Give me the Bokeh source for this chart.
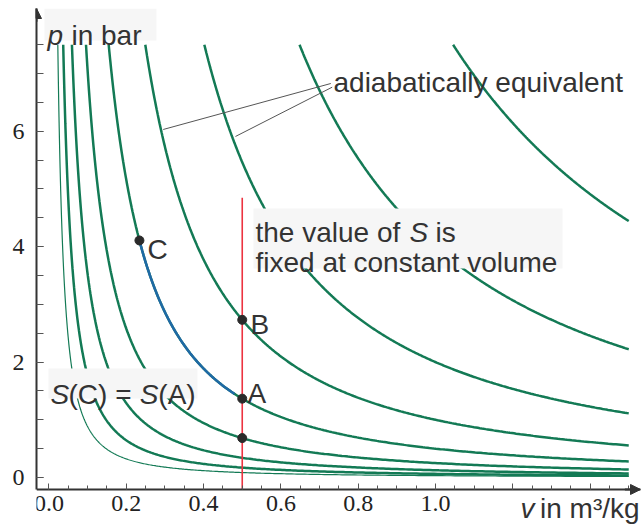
import numpy as np
from bokeh.plotting import figure
from bokeh.models import (Range1d, FixedTicker, CustomJSTickFormatter, Label,
                          BoxAnnotation, Arrow, NormalHead)
from bokeh.embed import file_html
from bokeh.resources import INLINE

# ---- data ----
kappa = 1.45                                   # adiabatic exponent of the curves p = K * v**(-kappa)
adiabat_K = [1/32, 1/16, 1/8, 1/4, 1/2, 1, 2, 4, 8]   # curve constants
p_clip = 7.5                                   # curves end at this pressure
v_end = 1.5                                    # curves end at this volume

state_names = ["A", "B", "", "C"]
state_v = [0.5, 0.5, 0.5, 0.234]
state_K = [0.5, 1, 0.25, 0.5]

blue_v = [0.234, 0.48]                         # blue part of the adiabat through C and A
blue_K = 0.5

iso_v = 0.5                                    # constant volume line
iso_p = [-0.21, 4.85]

x_ticks = [0.0, 0.2, 0.4, 0.6, 0.8, 1.0, 1.2, 1.4]
x_minor = [round(0.05 * i, 2) for i in range(31)]
y_ticks = [0, 2, 4, 6]
y_minor = [0.5 * i for i in range(16)]

GREEN = "#137a55"
BLUE = "#1f69a6"
RED = "#ec3340"
DARK = "#2a2a2a"
TXT = "#333333"
FONT = "Liberation Sans"
FS = "28px"

X0, X1 = -0.0323, 1.5304
YAX, Y1 = -0.208, 8.128          # x-axis position and top of frame
Y0 = -0.815                      # bottom of canvas

p = figure(width=642, height=524, x_range=Range1d(X0, X1),
           y_range=Range1d(Y0, Y1), output_backend="svg",
           toolbar_location=None, min_border_left=36, min_border_right=2,
           min_border_top=8, min_border_bottom=0)
p.outline_line_color = None
p.grid.visible = False
p.background_fill_color = "white"

# axes
xa = p.xaxis[0]
xa.fixed_location = YAX
xa.ticker = FixedTicker(ticks=x_ticks, minor_ticks=x_minor)
xa.formatter = CustomJSTickFormatter(code="return tick > 1.05 ? '' : tick.toFixed(1);")
ya = p.yaxis[0]
ya.bounds = (YAX, Y1)
ya.ticker = FixedTicker(ticks=y_ticks, minor_ticks=y_minor)
for ax in (xa, ya):
    ax.axis_line_width = 2
    ax.axis_line_color = "#333333"
    ax.major_tick_out = 0
    ax.minor_tick_out = 0
    ax.major_tick_line_color = "#555555"
    ax.minor_tick_line_color = "#555555"
    ax.major_label_text_font = "Liberation Serif"
    ax.major_label_text_font_size = "24px"
    ax.major_label_text_color = "#222222"
xa.major_tick_in = 6
xa.minor_tick_in = 4
xa.major_label_standoff = 7
ya.major_tick_in = 7
ya.minor_tick_in = 7
ya.major_label_standoff = 12

# adiabats
for i, K in enumerate(adiabat_K):
    v0 = (K / p_clip) ** (1 / kappa)
    v = np.geomspace(v0, v_end, 400)
    pr = K * v ** (-kappa)
    p.line(v, pr, line_color=GREEN, line_width=1.2 if i == 0 else 2.5)

# blue part
vb = np.linspace(blue_v[0], blue_v[1], 100)
p.line(vb, blue_K * vb ** (-kappa), line_color=BLUE, line_width=2.5)

# constant volume line
p.line([iso_v, iso_v], iso_p, line_color=RED, line_width=1.6)

# state points
state_p = [K * v ** (-kappa) for v, K in zip(state_v, state_K)]
p.scatter(state_v, state_p, size=9, color=DARK)

# axis arrowheads
head = dict(fill_color="#333333", line_color="#333333")
p.add_layout(Arrow(end=NormalHead(size=10, **head),
                   x_start=X0, y_start=7.9, x_end=X0, y_end=Y1,
                   line_color="#333333", line_width=2))
p.add_layout(Arrow(end=NormalHead(size=10, **head),
                   x_start=1.49, y_start=YAX, x_end=X1, y_end=YAX,
                   line_color="#333333", line_width=2))

# leader lines
p.add_layout(Arrow(end=None, x_start=0.7291, y_start=6.828, x_end=0.2955, y_end=6.031,
                   line_color="#555555", line_width=1))
p.add_layout(Arrow(end=None, x_start=0.7327, y_start=6.764, x_end=0.4825, y_end=5.910,
                   line_color="#555555", line_width=1))

# background boxes
for l, r, t, b in [(-0.0116, 0.2781, Y1, 7.574),
                   (0.5291, 1.3286, 4.662, 3.622),
                   (-0.0013, 0.3842, 1.889, 1.369)]:
    p.add_layout(BoxAnnotation(left=l, right=r, top=t, bottom=b,
                               fill_color="#f6f6f6", fill_alpha=1.0, line_color=None))


def lab(x, y, text, italic=False, size=FS):
    p.add_layout(Label(x=x, y=y, text=text, text_font=FONT, text_font_size=size,
                       text_color=TXT, text_baseline="alphabetic",
                       text_font_style="italic" if italic else "normal"))


lab(-0.0039, 7.66, "p", italic=True)
lab(0.0582, 7.66, "in bar")
lab(0.7361, 6.846, "adiabatically equivalent")
lab(0.5343, 4.246, "the value of")
lab(0.9327, 4.246, "S", italic=True)
lab(1.0, 4.246, "is")
lab(0.5343, 3.726, "fixed at constant volume")
lab(0.0039, 1.438, "S", italic=True)
lab(0.0505, 1.438, "(C) =")
lab(0.2349, 1.438, "S", italic=True)
lab(0.2829, 1.438, "(A)")
label_pos = {"C": (0.2549, 3.951), "B": (0.5213, 2.652), "A": (0.5136, 1.456)}
for name in state_names:
    if name:
        lab(label_pos[name][0], label_pos[name][1], name)
lab(1.2199, -0.54, "v", italic=True)
lab(1.2704, -0.54, "in m³/kg")

open("out.html", "w").write(file_html(p, INLINE))
